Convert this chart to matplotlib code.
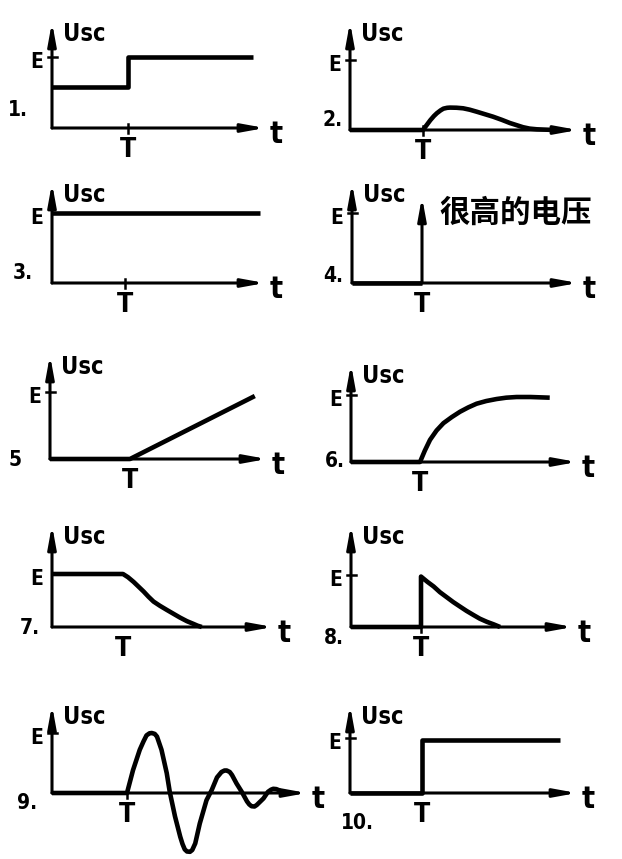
import matplotlib.pyplot as plt

plt.rcParams['font.family'] = ['DejaVu Sans']

# time in units of T, output voltage in units of E
t1 = [0, 1.0, 1.0, 2.64]
u1 = [0.58, 0.58, 1.0, 1.0]

t2 = [0, 1.0, 1.05, 1.10, 1.15, 1.19, 1.24, 1.28, 1.33, 1.37, 1.46, 1.55, 1.64,
      1.74, 1.85, 1.96, 2.08, 2.19, 2.28, 2.37, 2.46, 2.56, 2.8]
u2 = [0, 0, 0.07, 0.14, 0.20, 0.24, 0.28, 0.305, 0.317, 0.32, 0.318, 0.31, 0.29,
      0.26, 0.225, 0.19, 0.145, 0.10, 0.07, 0.04, 0.02, 0.01, 0]

t3 = [0, 2.85]
u3 = [1.0, 1.0]

t4 = [0, 1.0]
u4 = [0, 0]
spike4 = 1.23  # "very high voltage" arrow

t5 = [0, 1.0, 2.56]
u5 = [0, 0, 0.94]

t6 = [0, 1.0, 1.07, 1.145, 1.24, 1.34, 1.46, 1.58, 1.70, 1.82, 1.96, 2.11,
      2.25, 2.40, 2.60, 2.88]
u6 = [0, 0, 0.17, 0.33, 0.47, 0.58, 0.67, 0.75, 0.815, 0.87, 0.91, 0.94,
      0.96, 0.97, 0.97, 0.96]

t7 = [0, 1.0, 1.07, 1.15, 1.22, 1.29, 1.36, 1.43, 1.52, 1.62, 1.71, 1.80,
      1.90, 1.99, 2.05, 2.11]
u7 = [1.0, 1.0, 0.94, 0.85, 0.76, 0.67, 0.57, 0.48, 0.40, 0.32, 0.25, 0.18,
      0.11, 0.06, 0.025, 0]

t8 = [0, 1.0, 1.0, 1.09, 1.18, 1.27, 1.37, 1.46, 1.56, 1.65, 1.75, 1.84,
      1.94, 2.04, 2.13]
u8 = [0, 0, 0.97, 0.87, 0.78, 0.67, 0.57, 0.48, 0.39, 0.31, 0.23, 0.16,
      0.10, 0.05, 0.0]

t9 = [0, 1.0, 1.08, 1.17, 1.22, 1.26, 1.30, 1.33, 1.37, 1.40, 1.46, 1.53, 1.57,
      1.64, 1.71, 1.74, 1.77, 1.80, 1.84, 1.87, 1.91, 1.97, 2.06, 2.13, 2.20,
      2.26, 2.30, 2.33, 2.37, 2.40, 2.46, 2.53, 2.60, 2.63, 2.66, 2.70, 2.73,
      2.82, 2.88, 2.92, 2.95, 2.99, 3.02, 3.08]
u9 = [0, 0, 0.38, 0.72, 0.86, 0.96, 0.995, 1.0, 0.985, 0.94, 0.72, 0.33, 0.02,
      -0.39, -0.73, -0.85, -0.94, -0.975, -0.98, -0.95, -0.84, -0.51, -0.12,
      0.05, 0.26, 0.35, 0.375, 0.375, 0.35, 0.30, 0.16, 0.02, -0.14, -0.19,
      -0.22, -0.225, -0.20, -0.09, 0.02, 0.055, 0.07, 0.065, 0.05, 0]

t10 = [0, 1.0, 1.0, 2.92]
u10 = [0, 0, 0.97, 0.97]

labels = ['1.', '2.', '3.', '4.', '5', '6.', '7.', '8.', '9.', '10.']
series = [(t1, u1), (t2, u2), (t3, u3), (t4, u4), (t5, u5),
          (t6, u6), (t7, u7), (t8, u8), (t9, u9), (t10, u10)]

# layout in pixels: origin x, origin y, px per T, px per E, x-axis end, y-axis top
layout = [(52, 128, 76, 71, 265, 22), (350, 130, 73, 70, 578, 22),
          (52, 283, 73, 70, 265, 183), (352, 283, 70, 70, 578, 183),
          (50, 459, 80, 67, 267, 355), (351, 462, 69, 67, 577, 364),
          (52, 627, 71, 53, 273, 525), (351, 627, 70, 52, 573, 525),
          (52, 793, 75, 60, 307, 705), (350, 793, 72, 55, 577, 705)]
# offset (px) of the panel number from the origin
label_off = [(-34, -18), (-17, -10), (-29, -10), (-19, -7), (-35, 1),
             (-16, -1), (-22, 1), (-17, 11), (-25, 10), (7, 30)]
with_T_tick = [True, True, True, False, False, False, False, True, True, False]
with_E_tick = [True, True, False, True, True, True, False, True, True, True]

W, H = 622, 859
fig = plt.figure(figsize=(W / 100, H / 100), dpi=100)

AX_LW = 2.2
SIG_LW = 3.3
LATIN = dict(fontweight='bold', fontstretch='condensed')


def arrow(ax, x0, y0, x1, y1):
    ax.annotate('', xy=(x1, y1), xytext=(x0, y0),
                arrowprops=dict(arrowstyle='-|>,head_length=1.1,head_width=0.2',
                                mutation_scale=12, lw=AX_LW, color='black',
                                shrinkA=0, shrinkB=0), annotation_clip=False)


for i, (t, u) in enumerate(series):
    ox, oy, sx, sy, xe, yt = layout[i]
    left, right, up, down = 60, 300, 130, 75
    ax = fig.add_axes([(ox - left) / W, 1 - (oy + down) / H,
                       (left + right) / W, (up + down) / H])
    ax.set_xlim(-left / sx, right / sx)
    ax.set_ylim(-down / sy, up / sy)
    ax.axis('off')

    # axes with arrows
    arrow(ax, 0, 0, (xe - ox) / sx, 0)
    arrow(ax, 0, 0, 0, (oy - yt) / sy)

    # signal
    ax.plot(t, u, color='black', lw=SIG_LW, solid_joinstyle='round',
            solid_capstyle='butt', clip_on=False)
    if i == 3:
        arrow(ax, 1.0, 0, 1.0, spike4)
        ax.text(1.0 + 17 / sx, 1.0, '很高的电压', fontsize=22, ha='left', va='center',
                family=['Noto Sans CJK SC', 'DejaVu Sans'], fontweight='bold')

    # ticks
    if with_T_tick[i]:
        ax.plot([1, 1], [-5 / sy, 4 / sy], color='black', lw=1.8)
    if with_E_tick[i]:
        ax.plot([-4 / sx, 5 / sx], [1, 1], color='black', lw=1.8)

    # text labels
    ax.text(11 / sx, (oy - yt - 19) / sy, 'Usc', fontsize=17, ha='left',
            va='baseline', **LATIN)
    ax.text(-9 / sx, 1 - 11 / sy, 'E', fontsize=15, ha='right',
            va='baseline', **LATIN)
    ax.text(1.0, -29 / sy, 'T', fontsize=19, ha='center', va='baseline', **LATIN)
    ax.text((xe - ox + 5) / sx, -15 / sy, 't', fontsize=22, ha='left',
            va='baseline', **LATIN)
    dx, dy = label_off[i]
    ax.text(dx / sx, -dy / sy, labels[i], fontsize=15, ha='center',
            va='center', **LATIN)

fig.savefig('out.png', dpi=100)
